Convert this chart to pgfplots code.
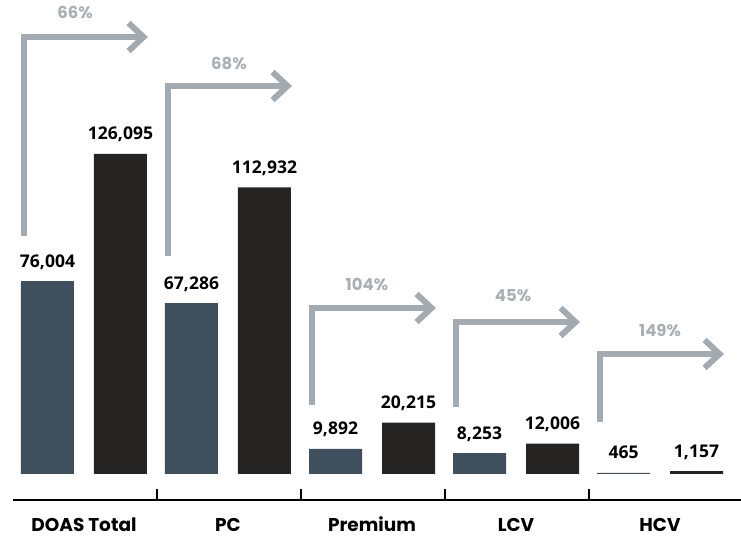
\documentclass[border=0pt]{standalone}
\usepackage{pgfplots}
\pgfplotsset{compat=1.18}
\usepackage{fontspec}
\setmainfont{Poppins}
\newfontfamily\numfont{Open Sans}
\usetikzlibrary{arrows.meta}
\definecolor{slate}{RGB}{62,80,93}
\definecolor{darkbar}{RGB}{38,36,34}
\definecolor{arrowgrey}{RGB}{162,171,177}
\definecolor{pctgrey}{RGB}{168,176,182}
\begin{document}
\begin{tikzpicture}
\begin{axis}[
  scale only axis, width=741pt, height=538pt,
  xmin=-0.5833, xmax=4.5625, ymin=-25219, ymax=186780,
  hide axis, clip=false,
  ybar, bar width=53pt,
]
\addplot[ybar, bar shift=-36.5pt, fill=slate, draw=none,
  nodes near coords={\pgfmathprintnumber[fixed,precision=0,1000 sep={,},assume math mode=true]{\pgfplotspointmeta}},
  every node near coord/.append style={anchor=base, yshift=14pt, font=\fontsize{17.5}{19}\numfont\bfseries, text=black}]
  coordinates {(0,76004) (1,67286) (2,9892) (3,8253) (4,465)};
\addplot[ybar, bar shift=36.5pt, fill=darkbar, draw=none,
  nodes near coords={\pgfmathprintnumber[fixed,precision=0,1000 sep={,},assume math mode=true]{\pgfplotspointmeta}},
  every node near coord/.append style={anchor=base, yshift=14pt, font=\fontsize{17.5}{19}\numfont\bfseries, text=black}]
  coordinates {(0,126095) (1,112932) (2,20215) (3,12006) (4,1157)};
% growth arrows
\pgfplotsset{arrowstyle/.style={sharp plot, no marks, draw=arrowgrey, line width=6pt,
  -{Straight Barb[length=15pt,width=28pt]}}}
\addplot[arrowstyle] coordinates {(-0.42,93784) (-0.42,172200) (0.444,172200)};
\addplot[arrowstyle] coordinates {(0.58,85903) (0.58,152891) (1.444,152891)};
\addplot[arrowstyle] coordinates {(1.58,27190) (1.58,65412) (2.444,65412)};
\addplot[arrowstyle] coordinates {(2.58,26401) (2.58,59896) (3.444,59896)};
\addplot[arrowstyle] coordinates {(3.58,20491) (3.58,47286) (4.444,47286)};
% percentage labels
\begin{scope}[every node/.style={font=\fontsize{16.5}{18}\selectfont\bfseries, text=pctgrey}]
\node at (axis cs:-0.0625,182051) {66\%};
\node at (axis cs:1.007,161955) {68\%};
\node at (axis cs:1.965,74870) {104\%};
\node at (axis cs:2.98,70141) {45\%};
\node at (axis cs:4.0,56743) {149\%};
\end{scope}
% baseline axis and separators
\addplot[sharp plot, no marks, draw=black, line width=2.5pt] coordinates {(-0.493,-10245) (4.5625,-10245)};
\addplot[sharp plot, no marks, draw=black, line width=2pt] coordinates {(0.51,-10245) (0.51,-5911)};
\addplot[sharp plot, no marks, draw=black, line width=2pt] coordinates {(1.51,-10245) (1.51,-5911)};
\addplot[sharp plot, no marks, draw=black, line width=2pt] coordinates {(2.51,-10245) (2.51,-5911)};
\addplot[sharp plot, no marks, draw=black, line width=2pt] coordinates {(3.51,-10245) (3.51,-5911)};
% category labels
\begin{scope}[every node/.style={font=\fontsize{18.5}{20}\selectfont\bfseries, text=black, inner sep=0pt}]
\node at (axis cs:0,-19900) {DOAS Total};
\node at (axis cs:1,-19900) {PC};
\node at (axis cs:2,-19900) {Premium};
\node at (axis cs:3,-19900) {LCV};
\node at (axis cs:4,-19900) {HCV};
\end{scope}
\end{axis}
\pgfresetboundingbox
\useasboundingbox (current axis.south west) rectangle (current axis.north east);
\end{tikzpicture}
\end{document}
